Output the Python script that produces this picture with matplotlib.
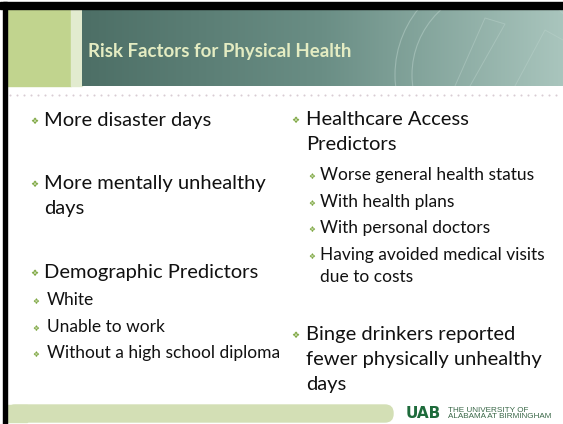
import numpy as np
import matplotlib
matplotlib.use('Agg')
import matplotlib.pyplot as plt
import matplotlib.patches as patches

# slide content
title = 'Risk Factors for Physical Health'

left_items = [
    (0, ['More disaster days']),
    (0, ['More mentally unhealthy', 'days']),
    (0, ['Demographic Predictors']),
    (1, ['White']),
    (1, ['Unable to work']),
    (1, ['Without a high school diploma']),
]
left_baselines = [126, 189, 278, 305, 332, 358]

right_items = [
    (0, ['Healthcare Access', 'Predictors']),
    (1, ['Worse general health status']),
    (1, ['With health plans']),
    (1, ['With personal doctors']),
    (1, ['Having avoided medical visits', 'due to costs']),
    (0, ['Binge drinkers reported', 'fewer physically unhealthy', 'days']),
]
right_baselines = [125, 180, 207, 233, 260, 340]

W, H = 563, 424
FONT = 'Lato'
BULLET_GREEN = '#7fa843'


def draw_header(ax):
    # black border top / left
    ax.add_patch(patches.Rectangle((0, 2), W, 7, color='black', zorder=5))
    ax.add_patch(patches.Rectangle((3, 2), 4, H, color='black', zorder=5))
    # left green block + light stripe
    ax.add_patch(patches.Rectangle((7, 9), 64, 77, color='#c1d48e', zorder=1))
    ax.add_patch(patches.Rectangle((71, 9), 11, 77, color='#e2ebcf', zorder=1))
    # teal gradient
    grad = np.linspace(0, 1, 256).reshape(1, -1)
    cmap = matplotlib.colors.LinearSegmentedColormap.from_list(
        'teal', ['#4d6f66', '#6a8e85', '#a9c5bd'])
    ax.imshow(grad, extent=(82, W, 86, 9), cmap=cmap, aspect='auto', zorder=1)
    # faint seal watermark
    clip = patches.Rectangle((82, 9), W - 82, 77, transform=ax.transData)
    for r in (105, 88):
        c = patches.Circle((500, 75), r, fill=False, ec='#bcd3cc', lw=0.8,
                           alpha=0.5, zorder=2)
        ax.add_patch(c)
        c.set_clip_path(clip)
    for xs_, ys_ in (([455, 485, 505, 470], [86, 18, 24, 86]),
                     ([515, 545, 563], [86, 30, 40])):
        ln, = ax.plot(xs_, ys_, color='#bcd3cc', lw=0.7, alpha=0.45, zorder=2)
        ln.set_clip_path(clip)
    # title
    ax.text(88, 57, title, fontsize=13.4, fontweight='bold', color='#e4ecc2',
            family=FONT, va='baseline', ha='left', zorder=3)
    # dotted separator
    xs = np.arange(10, W, 7)
    ax.scatter(xs, np.full_like(xs, 95, dtype=float), s=2.2, color='#d9ccd4',
               marker='o', linewidths=0, zorder=2)


def draw_column(ax, items, baselines, bx_main, tx_main, bx_sub, tx_sub):
    for (level, lines), y in zip(items, baselines):
        if level == 0:
            fs, step, bx, tx, bsz = 14.5, 25, bx_main, tx_main, 6.5
        else:
            fs, step, bx, tx, bsz = 12.5, 22, bx_sub, tx_sub, 5.5
        ax.text(bx, y - (5 if level == 0 else 4), '\u2756', fontsize=bsz,
                color=BULLET_GREEN, family='DejaVu Sans', ha='center',
                va='center', zorder=3)
        for i, line in enumerate(lines):
            ax.text(tx, y + i * step, line, fontsize=fs, color='#111111',
                    family=FONT, ha='left', va='baseline', zorder=3)


def draw_footer(ax):
    bar = patches.FancyBboxPatch((7, 405), 386, 17,
                                 boxstyle='round,pad=0,rounding_size=8',
                                 color='#d3dfb5', zorder=1)
    ax.add_patch(bar)
    ax.add_patch(patches.Rectangle((7, 405), 20, 17, color='#d3dfb5', zorder=1))
    ax.text(406, 418, 'UAB', fontsize=11, fontweight='heavy', color='#1e6b3b',
            family='DejaVu Sans', ha='left', va='baseline', zorder=3)
    ax.text(448, 412.5, 'THE UNIVERSITY OF', fontsize=5.9, color='#3a6848',
            family='Liberation Sans', ha='left', va='baseline', zorder=3)
    ax.text(448, 418.5, 'ALABAMA AT BIRMINGHAM', fontsize=5.9, color='#3a6848',
            family='Liberation Sans', ha='left', va='baseline', zorder=3)


def main():
    fig = plt.figure(figsize=(W / 100, H / 100), dpi=100)
    ax = fig.add_axes([0, 0, 1, 1])
    ax.set_xlim(0, W)
    ax.set_ylim(H, 0)
    ax.axis('off')

    draw_header(ax)
    draw_column(ax, left_items, left_baselines, 34, 44, 36, 47)
    draw_column(ax, right_items, right_baselines, 295, 306, 312, 320)
    draw_footer(ax)

    fig.savefig('out.png', dpi=100, facecolor='white')


if __name__ == '__main__':
    main()
